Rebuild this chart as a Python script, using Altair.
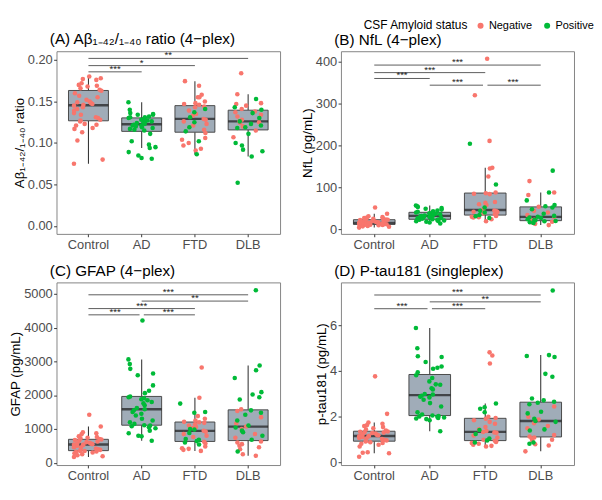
import altair as alt
import pandas as pd

GROUPS = ["Control", "AD", "FTD", "DLB"]
STATUS = ["Negative", "Positive"]
COLORS = ["#F8766D", "#00BA38"]

# ---------------- Panel A: Abeta 1-42/1-40 ratio ----------------
A_control = [0.075, 0.080, 0.103, 0.113, 0.117, 0.118, 0.121, 0.122, 0.123, 0.126,
             0.127, 0.128, 0.130, 0.131, 0.134, 0.136, 0.139, 0.141, 0.143, 0.145,
             0.146, 0.147, 0.148, 0.149, 0.150, 0.152, 0.155, 0.157, 0.160, 0.163,
             0.164, 0.166, 0.168, 0.169, 0.170, 0.172, 0.176, 0.177, 0.178, 0.180]
A_ad = [0.081, 0.082, 0.085, 0.089, 0.094, 0.095, 0.098, 0.102, 0.111, 0.115,
        0.116, 0.117, 0.118, 0.119, 0.120, 0.121, 0.121, 0.122, 0.123, 0.124,
        0.125, 0.125, 0.126, 0.127, 0.128, 0.129, 0.130, 0.131, 0.131, 0.132,
        0.134, 0.134, 0.135, 0.136, 0.140, 0.149]
A_ftd_neg = [0.091, 0.093, 0.097, 0.100, 0.104, 0.106, 0.112, 0.116, 0.121, 0.123,
             0.126, 0.128, 0.129, 0.133, 0.135, 0.139, 0.143, 0.144, 0.146, 0.147,
             0.148, 0.150, 0.155, 0.155, 0.158, 0.169, 0.1745]
A_ftd_pos = [0.0864, 0.102, 0.114, 0.119, 0.125, 0.131, 0.137, 0.141]
A_dlb_neg = [0.107, 0.115, 0.120, 0.124, 0.125, 0.126, 0.128, 0.132, 0.134, 0.137,
             0.138, 0.141, 0.145, 0.147, 0.148, 0.1587, 0.184]
A_dlb_pos = [0.052, 0.0838, 0.090, 0.092, 0.097, 0.100, 0.111, 0.118, 0.119, 0.121,
             0.123, 0.126, 0.130, 0.136, 0.140, 0.143, 0.153]
A_br_from = ["Control", "Control", "Control"]
A_br_to = ["AD", "FTD", "DLB"]
A_br_y = [0.1857, 0.1932, 0.2019]
A_br_label = ["***", "*", "**"]

# ---------------- Panel B: NfL ----------------
B_control = [4, 6, 7, 8, 9, 9.5, 10, 10.5, 11, 11.3, 11.6, 12, 12.5, 13, 13.5, 14, 14.5,
             15, 15.2, 15.3, 15.4, 16, 17, 17.5, 18, 19, 20, 21, 22, 22.7, 23.5, 24, 25,
             26, 27, 28, 29, 31, 37, 52]
B_ad = [14, 16, 18, 19, 20, 21, 22, 23, 23.5, 24, 25, 26, 27, 28, 29, 30, 31, 31.5,
        32.5, 33, 34, 35, 36, 37, 38, 39, 40, 42, 43, 45, 47, 49, 51, 53, 55, 57]
B_ftd_neg = [19, 24, 28, 29, 30, 32, 33, 36, 38, 41, 42, 43, 45, 47, 58, 60, 63, 65,
             84, 85, 86, 88, 126, 145, 147, 211, 320, 407]
B_ftd_pos = [27, 31, 34.2, 40, 44, 52, 107, 204]
B_dlb_neg = [10, 13, 16, 18, 20.3, 23, 26, 29.5, 34, 40, 44, 54, 82, 88, 115]
B_dlb_pos = [15, 17, 19, 20, 21.5, 22, 24, 27, 28, 30, 32, 37, 48, 52, 55, 58, 69,
             87.8, 140]
B_br_from = ["Control", "Control", "Control", "AD", "FTD"]
B_br_to = ["DLB", "FTD", "AD", "FTD", "DLB"]
B_br_y = [392, 374, 360, 344, 344]
B_br_label = ["***", "***", "***", "***", "***"]

# ---------------- Panel C: GFAP ----------------
C_control = [170, 190, 220, 250, 280, 300, 320, 335, 345, 350, 360, 380, 400, 420, 440,
             460, 480, 500, 520, 535, 540, 550, 560, 570, 590, 610, 630, 650, 670, 690,
             700, 720, 740, 760, 780, 840, 870, 900, 1070, 1420]
C_ad = [650, 780, 800, 870, 950, 1020, 1050, 1080, 1100, 1111, 1150, 1200, 1250, 1300,
        1400, 1450, 1500, 1550, 1585, 1620, 1700, 1760, 1800, 1850, 1880, 1910, 1940,
        1963, 2060, 2130, 2290, 2590, 2640, 2780, 2920, 3060, 4210]
C_ftd_neg = [350, 380, 410, 430, 480, 570, 620, 760, 800, 850, 920, 944, 1030, 1060,
             1100, 1140, 1180, 1200, 1210, 1250, 1300, 1380, 1926, 2820]
C_ftd_pos = [540, 600, 640, 680, 700, 880, 980, 1000, 1480, 1500, 1750]
C_dlb_neg = [204, 250, 400, 460, 500, 550, 600, 630, 740, 850, 1000, 1070, 1160, 1350,
             1530, 1580]
C_dlb_pos = [330, 680, 800, 900, 950, 1040, 1100, 1250, 1420, 1480, 1550, 1870, 1940,
             2020, 2090, 2510, 2740, 2880, 5110]
C_br_from = ["Control", "AD", "Control", "Control", "AD"]
C_br_to = ["DLB", "DLB", "FTD", "AD", "FTD"]
C_br_y = [4973, 4787, 4565, 4380, 4380]
C_br_label = ["***", "**", "***", "***", "***"]

# ---------------- Panel D: P-tau181 ----------------
D_control = [0.25, 0.41, 0.43, 0.45, 0.70, 0.78, 0.82, 0.86, 0.89, 0.92, 0.94, 0.97,
             1.00, 1.03, 1.05, 1.08, 1.10, 1.12, 1.14, 1.15, 1.17, 1.19, 1.21, 1.24,
             1.27, 1.29, 1.31, 1.33, 1.35, 1.36, 1.40, 1.45, 1.50, 1.55, 1.60, 1.64,
             1.70, 1.75, 2.13, 3.77]
D_ad = [1.37, 1.85, 1.90, 1.93, 1.95, 1.97, 2.00, 2.02, 2.04, 2.06, 2.10, 2.20, 2.45,
        2.60, 2.75, 2.85, 2.88, 2.92, 2.98, 3.00, 3.20, 3.25, 3.40, 3.42, 3.55, 3.70,
        3.82, 3.95, 4.10, 4.15, 4.20, 4.40, 4.62, 4.65, 5.00, 5.89]
D_ftd_neg = [0.70, 0.73, 0.78, 0.82, 0.85, 0.90, 0.93, 0.95, 1.00, 1.10, 1.18, 1.30,
             1.32, 1.34, 1.38, 1.45, 1.55, 1.70, 1.78, 1.85, 1.92, 1.95, 2.00, 4.33,
             4.68, 4.82]
D_ftd_pos = [0.88, 0.97, 1.05, 1.25, 1.42, 2.20, 2.35, 2.42, 2.58]
D_dlb_neg = [0.49, 0.75, 0.80, 0.95, 1.00, 1.05, 1.10, 1.14, 1.20, 1.50, 1.60, 1.72,
             1.88, 2.00, 2.45]
D_dlb_pos = [0.82, 0.88, 1.40, 1.45, 1.78, 1.82, 1.92, 2.15, 2.22, 2.55, 2.62, 2.66,
             2.72, 2.80, 3.75, 3.88, 4.62, 4.66, 4.70, 7.53]
D_br_from = ["Control", "AD", "Control", "AD"]
D_br_to = ["DLB", "DLB", "AD", "FTD"]
D_br_y = [7.33, 7.03, 6.73, 6.73]
D_br_label = ["***", "**", "***", "***"]

FONT = "Liberation Sans"
H = 192
W1 = 235
W2 = 245


def make_df(ctrl, ad, ftd_neg, ftd_pos, dlb_neg, dlb_pos):
    rows = []
    parts = [("Control", "Negative", ctrl), ("AD", "Positive", ad),
             ("FTD", "Negative", ftd_neg), ("FTD", "Positive", ftd_pos),
             ("DLB", "Negative", dlb_neg), ("DLB", "Positive", dlb_pos)]
    for g, s, vals in parts:
        for v in vals:
            rows.append({"group": g, "status": s, "value": v})
    return pd.DataFrame(rows)


def make_br(frm, to, ys, labels):
    rows = []
    for a, b, y, lab in zip(frm, to, ys, labels):
        p1 = GROUPS.index(a) + 1
        p2 = GROUPS.index(b) + 1
        s1 = s2 = 0.0
        for a2, b2, y2 in zip(frm, to, ys):
            if y2 == y and (a2, b2) != (a, b):
                if GROUPS.index(b2) + 1 == p1:
                    s1 = 0.04
                if GROUPS.index(a2) + 1 == p2:
                    s2 = 0.04
        rows.append({"x1": p1 + s1, "x2": p2 - s2, "xm": (p1 + p2) / 2, "y": y, "label": lab})
    return pd.DataFrame(rows)


def panel(df, br, ydom, yticks, yfmt, ytitle, title, W):
    step = W / 4.2
    yscale = alt.Scale(domain=ydom, nice=False, zero=False)
    xband = alt.Scale(domain=GROUPS, paddingInner=0, paddingOuter=0.1)
    xq = alt.Scale(domain=[0.4, 4.6], nice=False, zero=False)

    def yaxis():
        return alt.Axis(values=yticks, format=yfmt, title=ytitle)

    box = alt.Chart(df).mark_boxplot(
        extent=1.5, size=0.75 * step, outliers=False, ticks=False,
        color="#A0ACB8",
        box={"fill": "#A0ACB8", "stroke": "#454545", "strokeWidth": 1},
        median={"color": "#1A1A1A", "thickness": 2.5},
        rule={"color": "#333333", "strokeWidth": 1.1},
    ).encode(
        x=alt.X("group:N", scale=xband, sort=GROUPS, title=None,
                axis=alt.Axis(labelAngle=0, labelFontSize=13.5)),
        y=alt.Y("value:Q", scale=yscale, title=ytitle, axis=yaxis()),
    )

    pts = alt.Chart(df).transform_window(
        idx="row_number()"
    ).transform_calculate(
        xp="indexof(['Control','AD','FTD','DLB'], datum.group) + 1 + "
           "((abs(sin(datum.idx * 12.9898 + 4.1414) * 43758.5453) % 1) - 0.5) * 0.56"
    ).mark_circle(size=23, opacity=1).encode(
        x=alt.X("xp:Q", scale=xq, axis=None),
        y=alt.Y("value:Q", scale=yscale, title=ytitle, axis=yaxis()),
        color=alt.Color("status:N", scale=alt.Scale(domain=STATUS, range=COLORS),
                        legend=alt.Legend(
                            title="CSF Amyloid status", orient="none",
                            legendX=323, legendY=-33, direction="horizontal",
                            titleOrient="left", symbolType="circle", symbolSize=40,
                            symbolStrokeWidth=0, labelFontSize=11.5, titleFontSize=12.5,
                            titleFontWeight="normal", titleColor="#000000",
                            labelColor="#000000", columnPadding=10, labelOffset=3,
                            titlePadding=7, padding=0, labelFont=FONT, titleFont=FONT)),
    )

    rules = alt.Chart(br).mark_rule(color="#555555", strokeWidth=1).encode(
        x=alt.X("x1:Q", scale=xq, axis=None),
        x2="x2:Q",
        y=alt.Y("y:Q", scale=yscale, title=ytitle, axis=yaxis()),
    )
    txt = alt.Chart(br).mark_text(fontSize=10, baseline="alphabetic", dy=0,
                                  color="#222222", font=FONT).encode(
        x=alt.X("xm:Q", scale=xq, axis=None),
        y=alt.Y("y:Q", scale=yscale, title=ytitle, axis=yaxis()),
        text="label:N",
    )

    return alt.layer(box, alt.layer(pts, rules, txt)).resolve_scale(
        x="independent"
    ).properties(
        width=W, height=H,
        title=alt.TitleParams(title, anchor="start", frame="group", dx=-7,
                              fontSize=16, fontWeight="normal", offset=4,
                              font=FONT, color="#000000"),
    )


dfA = make_df(A_control, A_ad, A_ftd_neg, A_ftd_pos, A_dlb_neg, A_dlb_pos)
dfB = make_df(B_control, B_ad, B_ftd_neg, B_ftd_pos, B_dlb_neg, B_dlb_pos)
dfC = make_df(C_control, C_ad, C_ftd_neg, C_ftd_pos, C_dlb_neg, C_dlb_pos)
dfD = make_df(D_control, D_ad, D_ftd_neg, D_ftd_pos, D_dlb_neg, D_dlb_pos)

brA = make_br(A_br_from, A_br_to, A_br_y, A_br_label)
brB = make_br(B_br_from, B_br_to, B_br_y, B_br_label)
brC = make_br(C_br_from, C_br_to, C_br_y, C_br_label)
brD = make_br(D_br_from, D_br_to, D_br_y, D_br_label)

pA = panel(dfA, brA, [-0.0095, 0.2105], [0, 0.05, 0.10, 0.15, 0.20], ".2f",
           "Aβ₁₋₄₂/₁₋₄₀ ratio", "(A) Aβ₁₋₄₂/₁₋₄₀ ratio (4−plex)", W1)
pB = panel(dfB, brB, [-11, 425], [0, 100, 200, 300, 400], "d",
           "NfL (pg/mL)", "(B) NfL (4−plex)", W2)
pC = panel(dfC, brC, [-70, 5340], [0, 1000, 2000, 3000, 4000, 5000], "d",
           "GFAP (pg/mL)", "(C) GFAP (4−plex)", W1)
pD = panel(dfD, brD, [-0.11, 7.88], [0, 2, 4, 6], "d",
           "p-tau181 (pg/mL)", "(D)  P-tau181 (singleplex)", W2)

chart = alt.concat(
    pA, pB, pC, pD, columns=2, align="each", spacing={"row": 11, "column": 20}
).properties(
    padding={"left": 0, "top": 0, "right": 0, "bottom": 0}
).configure(
    font=FONT
).configure_view(
    stroke="#808080", strokeWidth=1
).configure_axis(
    labelFont=FONT, titleFont=FONT, labelFontSize=13.5, labelColor="#4D4D4D",
    tickColor="#333333", tickSize=3, domain=False, grid=False,
    titleFontSize=14, titleFontWeight="normal", titleColor="#000000",
    labelPadding=1.5, titlePadding=1
)

chart.save("out.html", embed_options={"renderer": "svg", "actions": False})
